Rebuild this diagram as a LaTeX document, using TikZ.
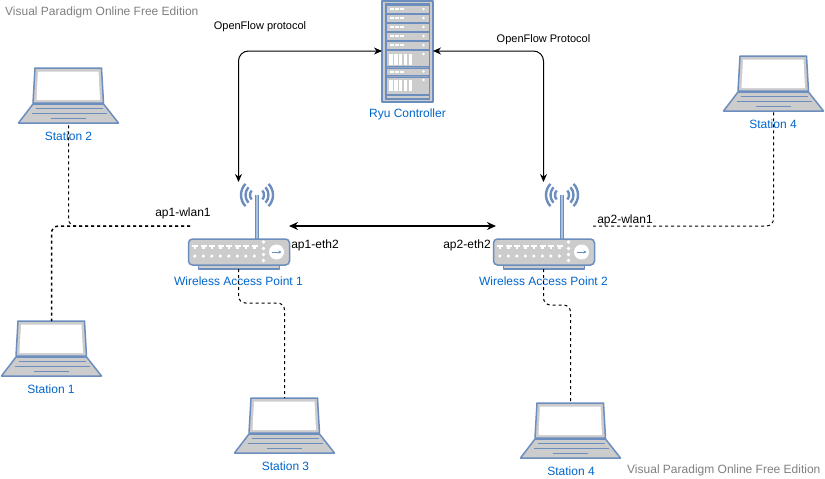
\documentclass[tikz,border=0pt]{standalone}
\usepackage{fontspec}
\usetikzlibrary{arrows.meta}
\setmainfont{Liberation Sans}
\definecolor{iconblue}{HTML}{6C8EBF}
\definecolor{icongrey}{HTML}{CCCCCC}
\definecolor{labelblue}{HTML}{0066CC}
\definecolor{wm}{HTML}{808080}
\tikzset{
  lbl/.style={font=\fontsize{12}{14}\selectfont,text=labelblue,inner sep=0pt,anchor=center},
  blk/.style={font=\fontsize{12}{14}\selectfont,text=black,inner sep=0pt,anchor=center},
  small/.style={font=\fontsize{11}{13}\selectfont,text=black,inner sep=0pt,anchor=center},
  wmark/.style={font=\fontsize{12}{14}\selectfont,text=wm,inner sep=0pt,anchor=west},
  icon/.style={draw=iconblue,line width=1.5pt,fill=icongrey,line join=round},
  iconline/.style={draw=iconblue,line width=1.5pt},
  link/.style={draw=black,line width=1pt,dash pattern=on 3pt off 3pt,rounded corners=7pt},
  linkheavy/.style={link,line width=1.5pt},
  arr/.style={draw=black,line width=1pt,rounded corners=10pt,{Stealth[length=8pt,width=7pt]}-{Stealth[length=8pt,width=7pt]}},
  arrthick/.style={draw=black,line width=1.6pt,{Stealth[length=9pt,width=8pt]}-{Stealth[length=9pt,width=8pt]}}
}
\newcommand{\laptopicon}[3]{% name, left of base, bottom of base
  \begin{scope}[shift={(#2,#3)}]
    \path[icon] (16.5,-55) -- (83,-55) -- (85,-20) -- (14.5,-20) -- cycle;
    \path[draw=none,fill=white] (19.5,-51.5) -- (80,-51.5) -- (81.5,-23) -- (18,-23) -- cycle;
    \path[icon] (14.5,-19) -- (85,-19) -- (100,0) -- (0,0) -- cycle;
    \path[iconline] (17,-14.5) -- (84,-14.5);
    \path[iconline] (13.5,-9.5) -- (88.5,-9.5);
    \path[iconline] (32,-4.5) -- (67,-4.5);
    \coordinate (#1-b) at (50,0);
    \coordinate (#1-t) at (50,-55);
  \end{scope}}
\newcommand{\routericon}[3]{% name, left of body, top of body
  \begin{scope}[shift={(#2,#3)}]
    \path[icon] (10,24) rectangle (91,30);
    \path[draw=iconblue,line width=4pt] (68.5,0) -- (68.5,-44);
    \path[draw=iconblue!55!white,line width=1.2pt] (68.5,0) -- (68.5,-44);
    \path[icon,rounded corners=4pt] (0,0) rectangle (101,26);
    \foreach \i in {0,...,7}{
      \path[draw=none,fill=white] (3.5+\i*8.5,5.5) rectangle +(6,2.2);
      \path[draw=none,fill=white] (5.3+\i*8.5,7.5) rectangle +(2.2,2);
      \fill[white] (6.3+\i*8.5,17) circle (1.8pt);
    }
    \foreach \yy in {3,9.5,15.5,21.5}{\fill[white] (75,\yy) circle (1.8pt);}
    \fill[white] (88,13) circle (7.5pt);
    \path[draw=iconblue,line width=1pt,-{Stealth[length=3pt,width=3pt]}] (83,13) -- (93,13);
    \foreach \rr/\aa in {7/40,11.5/42,16/44}{
      \path[draw=iconblue,line width=2.4pt] (68.5,-44) ++(\aa:\rr pt) arc[start angle=\aa,end angle=-\aa,radius=\rr pt];
      \path[draw=iconblue,line width=2.4pt] (68.5,-44) ++(180-\aa:\rr pt) arc[start angle=180-\aa,end angle=180+\aa,radius=\rr pt];
    }
    \coordinate (#1-b) at (50,30);
    \coordinate (#1-a) at (50,-57);
  \end{scope}}
\begin{document}
\begin{tikzpicture}[x=1pt,y=-1pt]
\useasboundingbox (0,0) rectangle (825,479);
\fill[white] (0,0) rectangle (825,479);

\node[wmark] (wm1) at (5,12) {Visual Paradigm Online Free Edition};
\node[wmark] (wm2) at (627,470) {Visual Paradigm Online Free Edition};

% Rack
\path[icon] (382,1) rectangle (433,102);
\path[draw=iconblue,line width=1.5pt,fill=iconblue!60!icongrey] (386,4) rectangle (429,99);
\foreach \yt/\hh in {5/8,14/8,23/8,32/8,41/8}{
  \path[icon,line width=1pt] (386,\yt) rectangle +(43,\hh);
  \foreach \k in {0,1,2}{\fill[white] (390+\k*5,\yt+3) rectangle +(3.6,2);}
  \fill[white] (423.5,\yt+4) circle (1.3pt);
}
\foreach \yt/\hh in {50/16,68/7,77/17}{
  \path[icon,line width=1pt] (386,\yt) rectangle +(43,\hh);
}
\foreach \yt in {52,78}{
  \foreach \k in {0,...,4}{\fill[white] (389.3+\k*4.8,\yt+1.5) rectangle +(3.4,11.5);}
  \fill[white] (423.5,\yt+2) circle (1.3pt);
}
\foreach \k in {0,1,2}{\fill[white] (390+\k*5,70.5) rectangle +(3.6,2);}
\fill[white] (423.5,71.5) circle (1.3pt);
\path[icon,line width=1pt] (386,95) rectangle (429,98);
\coordinate (rackl) at (382,51);
\coordinate (rackr) at (433,51);
\node[lbl] (ryu) at (407.5,114) {Ryu Controller};

% Routers
\routericon{ap1}{188.5}{239}
\routericon{ap2}{493.5}{239}
\node[lbl] (ap1l) at (238.5,281) {Wireless Access Point 1};
\node[lbl] (ap2l) at (543.5,281) {Wireless Access Point 2};

% Laptops
\laptopicon{s2}{18.5}{123}
\laptopicon{s1}{1.5}{376}
\laptopicon{s3}{234.5}{453}
\laptopicon{s4b}{520.5}{458}
\laptopicon{s4r}{723.5}{111}
\node[lbl] (s2l) at (68.5,136) {Station 2};
\node[lbl] (s1l) at (51,389) {Station 1};
\node[lbl] (s3l) at (285.5,466) {Station 3};
\node[lbl] (s4bl) at (571,471) {Station 4};
\node[lbl] (s4rl) at (773,124) {Station 4};

% Free points
\coordinate (wl1) at (190,226);
\coordinate (wl2) at (593,226);
\coordinate (e1) at (289,226);
\coordinate (e2) at (496,226);

% Connectors
\draw[link] (wl1) -| (s2-b);
\draw[linkheavy] (wl1) -| (s1-t);
\draw[link] (wl2) -| (s4r-b);
\draw[link] (ap1-b) -- ++(0,34) -| (s3-t);
\draw[link] (ap2-b) -- ++(0,36) -| (s4b-t);
\draw[arr] (rackl) -| (ap1-a);
\draw[arr] (rackr) -| (ap2-a);
\draw[arrthick] (e1) -- (e2);

% Labels
\node[small] (of1) at (260,27) {OpenFlow protocol};
\node[small] (of2) at (543.5,40) {OpenFlow Protocol};
\node[blk] (w1) at (183,213) {ap1-wlan1};
\node[blk] (w2) at (625,220) {ap2-wlan1};
\node[blk] (e1l) at (315,245) {ap1-eth2};
\node[blk] (e2l) at (467,245) {ap2-eth2};
\end{tikzpicture}
\end{document}
